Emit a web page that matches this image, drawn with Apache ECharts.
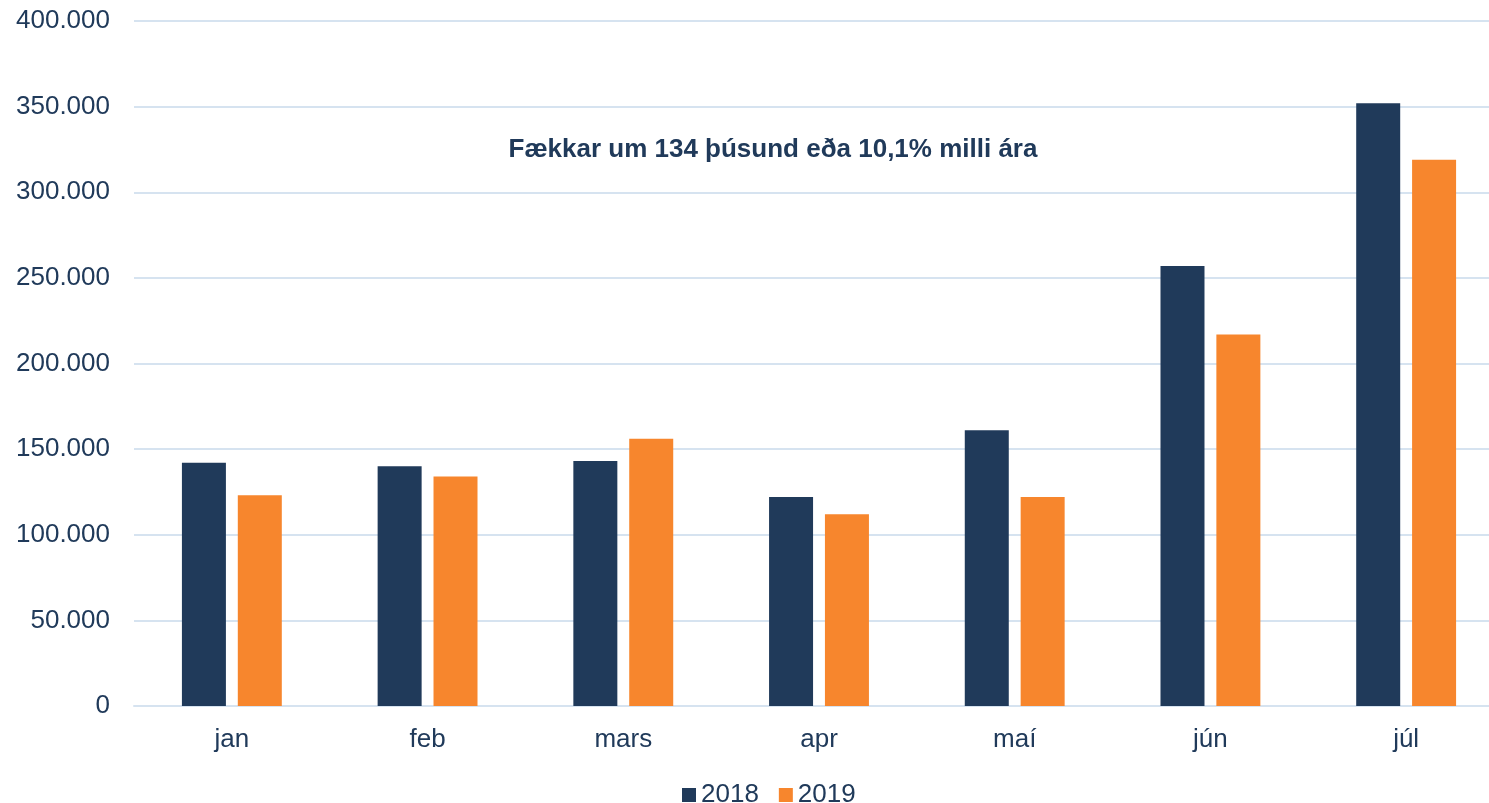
<!DOCTYPE html>
<html>
<head>
<meta charset="utf-8">
<style>
  html, body { margin: 0; padding: 0; background: #fff; overflow: hidden; }
  /* a bit wider than the window: the plot runs off the right edge like the original */
  #chart { width: 1504px; height: 803px; }
</style>
<script src="https://cdn.jsdelivr.net/npm/echarts@6/dist/echarts.min.js"></script>
</head>
<body>
<div id="chart"></div>
<script>
// mánuðir
var months = ['jan', 'feb', 'mars', 'apr', 'maí', 'jún', 'júl']
var values2018 = [142000, 140000, 143000, 122000, 161000, 257000, 352000]
var values2019 = [123000, 134000, 156000, 112000, 122000, 217000, 319000]
var seriesNames = ['2018', '2019']
var note = 'Fækkar um 134 þúsund eða 10,1% milli ára'

var textColor = '#203a5a'
var font = 'Liberation Sans, Arial, sans-serif'

function fmt(v) {
  return String(v).replace(/\B(?=(\d{3})+(?!\d))/g, '.')
}

var chart = echarts.init(document.getElementById('chart'))
chart.setOption({
  animation: false,
  title: {
    text: note,
    left: 768,
    top: 132,
    textAlign: 'center',
    textStyle: { color: textColor, fontSize: 26, fontWeight: 'bold', fontFamily: font }
  },
  grid: {
    left: 134,
    right: 0,
    top: 21,
    bottom: 97,
    containLabel: false
  },
  legend: {
    data: seriesNames,
    left: 677,
    top: 777,
    itemWidth: 14,
    itemHeight: 14,
    itemGap: 20,
    icon: 'rect',
    textStyle: { color: textColor, fontSize: 26, fontFamily: font }
  },
  xAxis: {
    type: 'category',
    data: months,
    axisTick: { show: false },
    axisLine: { lineStyle: { color: '#d6e3f0', width: 2 } },
    axisLabel: { color: textColor, fontSize: 26, fontFamily: font, margin: 21 }
  },
  yAxis: {
    type: 'value',
    min: 0,
    max: 400000,
    interval: 50000,
    axisLine: { show: false },
    axisTick: { show: false },
    splitLine: { lineStyle: { color: '#d6e3f0', width: 2 } },
    axisLabel: {
      color: textColor, fontSize: 26, fontFamily: font, margin: 24,
      formatter: fmt
    }
  },
  series: [
    {
      name: seriesNames[0],
      type: 'bar',
      data: values2018,
      barWidth: 44,
      barGap: '27%',
      itemStyle: { color: '#203a5a' }
    },
    {
      name: seriesNames[1],
      type: 'bar',
      data: values2019,
      barWidth: 44,
      barGap: '27%',
      itemStyle: { color: '#f7862d' }
    }
  ]
})
</script>
</body>
</html>
